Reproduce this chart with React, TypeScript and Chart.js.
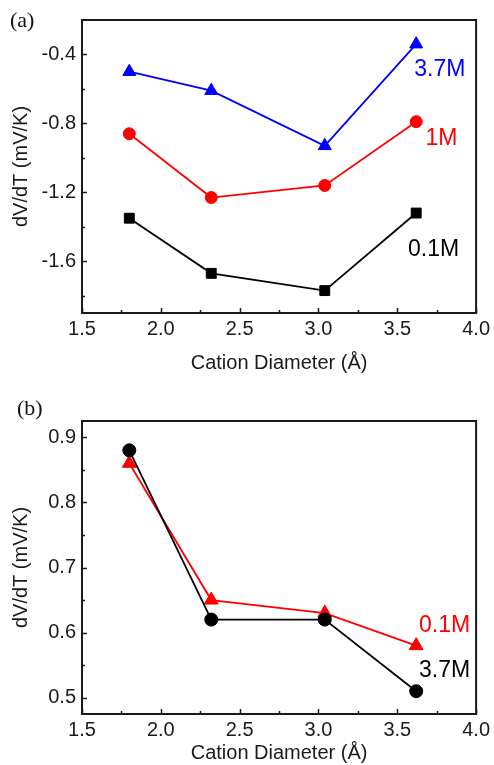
import React, { useEffect, useRef } from 'react';
import { Chart, registerables } from 'chart.js';

Chart.register(...registerables);

// ---- data ----
const cationDiameters = [1.8, 2.32, 3.04, 3.62];

const aSeries37M = [-0.5, -0.61, -0.93, -0.34];
const aSeries1M = [-0.86, -1.23, -1.16, -0.79];
const aSeries01M = [-1.35, -1.67, -1.77, -1.32];

const bSeries37M = [0.88, 0.62, 0.62, 0.51];
const bSeries01M = [0.86, 0.65, 0.63, 0.58];

const xTicks = [1.5, 2.0, 2.5, 3.0, 3.5, 4.0];
const xMinorTicks = [1.75, 2.25, 2.75, 3.25, 3.75];
const aYTicks = [-1.6, -1.2, -0.8, -0.4];
const aYMinorTicks = [-1.8, -1.4, -1.0, -0.6];
const bYTicks = [0.5, 0.6, 0.7, 0.8, 0.9];
const bYMinorTicks = [0.55, 0.65, 0.75, 0.85];

const xTitle = 'Cation Diameter (Å)';
const yTitle = 'dV/dT (mV/K)';

const FONT = '"Liberation Sans", Arial, Helvetica, sans-serif';
const INK = '#1a1a1a';

const framePlugin = {
  id: 'frameTicks',
  beforeDatasetsDraw(chart: any, _args: any, opts: any) {
    const { ctx, chartArea } = chart;
    const { left, right, top, bottom } = chartArea;
    const xs = chart.scales.x;
    const ys = chart.scales.y;
    ctx.save();
    ctx.strokeStyle = INK;
    ctx.lineWidth = 1.5;
    ctx.beginPath();
    const major = 5;
    const minor = 3;
    (opts.xMajor || []).forEach((v: number) => {
      const p = Math.round(xs.getPixelForValue(v)) + 0.5;
      ctx.moveTo(p, bottom);
      ctx.lineTo(p, bottom - major);
    });
    (opts.xMinor || []).forEach((v: number) => {
      const p = Math.round(xs.getPixelForValue(v)) + 0.5;
      ctx.moveTo(p, bottom);
      ctx.lineTo(p, bottom - minor);
    });
    (opts.yMajor || []).forEach((v: number) => {
      const p = Math.round(ys.getPixelForValue(v)) + 0.5;
      ctx.moveTo(left, p);
      ctx.lineTo(left + major, p);
    });
    (opts.yMinor || []).forEach((v: number) => {
      const p = Math.round(ys.getPixelForValue(v)) + 0.5;
      ctx.moveTo(left, p);
      ctx.lineTo(left + minor, p);
    });
    ctx.stroke();
    ctx.lineWidth = 2;
    ctx.strokeRect(left, top, right - left, bottom - top);
    ctx.restore();
  },
};

const labelPlugin = {
  id: 'seriesLabels',
  afterDatasetsDraw(chart: any, _args: any, opts: any) {
    const { ctx } = chart;
    const xs = chart.scales.x;
    const ys = chart.scales.y;
    ctx.save();
    ctx.font = `23px ${FONT}`;
    ctx.textAlign = 'center';
    ctx.textBaseline = 'middle';
    (opts.items || []).forEach((it: any) => {
      ctx.fillStyle = it.color;
      ctx.fillText(it.text, xs.getPixelForValue(it.x), ys.getPixelForValue(it.y));
    });
    ctx.restore();
  },
};

function makeDataset(label: string, values: number[], color: string, style: string, radius: number) {
  return {
    label,
    data: cationDiameters.map((x, i) => ({ x, y: values[i] })),
    borderColor: color,
    backgroundColor: color,
    borderWidth: 1.8,
    pointStyle: style,
    pointRadius: radius,
    pointBackgroundColor: color,
    pointBorderColor: color,
    pointBorderWidth: 1,
    showLine: true,
    tension: 0,
  };
}

function makeOptions(p: any) {
  const tickFont = { family: FONT, size: 20 };
  return {
    responsive: false,
    animation: false,
    layout: { padding: { left: 0, right: 15, top: p.padTop, bottom: 0 } },
    plugins: {
      legend: { display: false },
      tooltip: { enabled: false },
      frameTicks: { xMajor: xTicks, xMinor: xMinorTicks, yMajor: p.yTicks, yMinor: p.yMinor },
      seriesLabels: { items: p.labels },
    },
    scales: {
      x: {
        type: 'linear',
        min: 1.5,
        max: 4.0,
        afterBuildTicks: (s: any) => {
          s.ticks = xTicks.map((v) => ({ value: v }));
        },
        afterFit: (s: any) => {
          s.height = p.xAxisHeight;
        },
        grid: { display: false, drawTicks: false },
        border: { display: false },
        ticks: {
          padding: 4,
          color: INK,
          font: tickFont,
          maxRotation: 0,
          autoSkip: false,
          callback: (v: any) => Number(v).toFixed(1),
        },
        title: {
          display: true,
          text: xTitle,
          color: INK,
          font: { family: FONT, size: 20 },
          padding: { top: 0, bottom: p.xTitlePad },
        },
      },
      y: {
        type: 'linear',
        min: p.yMin,
        max: p.yMax,
        afterBuildTicks: (s: any) => {
          s.ticks = p.yTicks.map((v: number) => ({ value: v }));
        },
        afterFit: (s: any) => {
          s.width = 82;
        },
        grid: { display: false, drawTicks: false },
        border: { display: false },
        ticks: {
          padding: 6,
          color: INK,
          font: tickFont,
          autoSkip: false,
          callback: (v: any) => Number(v).toFixed(1),
        },
        title: {
          display: true,
          text: yTitle,
          color: INK,
          font: { family: FONT, size: 20 },
          padding: { top: 9, bottom: 0 },
        },
      },
    },
  };
}

function Panel(props: { height: number; datasets: any[]; options: any }) {
  const ref = useRef<HTMLCanvasElement | null>(null);
  useEffect(() => {
    if (!ref.current) return;
    const chart = new Chart(ref.current, {
      type: 'scatter',
      data: { datasets: props.datasets },
      options: props.options,
      plugins: [framePlugin, labelPlugin],
    } as any);
    return () => chart.destroy();
  }, []);
  return <canvas ref={ref} width={494} height={props.height} style={{ display: 'block', width: 494, height: props.height }} />;
}

export default function App() {
  const aDatasets = [
    makeDataset('3.7M', aSeries37M, '#0000ff', 'triangle', 7.5),
    makeDataset('1M', aSeries1M, '#ff0000', 'circle', 6),
    makeDataset('0.1M', aSeries01M, '#000000', 'rect', 7),
  ];
  const aOptions = makeOptions({
    padTop: 20,
    xAxisHeight: 67,
    xTitlePad: 5,
    yMin: -1.9,
    yMax: -0.2,
    yTicks: aYTicks,
    yMinor: aYMinorTicks,
    labels: [
      { text: '3.7M', x: 3.77, y: -0.49, color: '#0000ff' },
      { text: '1M', x: 3.78, y: -0.89, color: '#ff0000' },
      { text: '0.1M', x: 3.73, y: -1.535, color: '#000000' },
    ],
  });

  const bDatasets = [
    makeDataset('3.7M', bSeries37M, '#000000', 'circle', 6.5),
    makeDataset('0.1M', bSeries01M, '#ff0000', 'triangle', 8),
  ];
  const bOptions = makeOptions({
    padTop: 41,
    xAxisHeight: 51,
    xTitlePad: 0,
    yMin: 0.475,
    yMax: 0.925,
    yTicks: bYTicks,
    yMinor: bYMinorTicks,
    labels: [
      { text: '0.1M', x: 3.8, y: 0.611, color: '#ff0000' },
      { text: '3.7M', x: 3.8, y: 0.541, color: '#000000' },
    ],
  });

  const tagStyle: React.CSSProperties = {
    position: 'absolute',
    fontFamily: '"Liberation Serif", "Times New Roman", serif',
    fontSize: 22,
    lineHeight: '22px',
    color: '#111',
  };

  return (
    <div style={{ position: 'absolute', left: 0, top: 0, width: 494, height: 765, background: '#fff', overflow: 'hidden' }}>
      <div style={{ position: 'absolute', left: 0, top: 0 }}>
        <Panel height={380} datasets={aDatasets} options={aOptions} />
      </div>
      <div style={{ position: 'absolute', left: 0, top: 380 }}>
        <Panel height={385} datasets={bDatasets} options={bOptions} />
      </div>
      <div style={{ ...tagStyle, left: 10, top: 9 }}>(a)</div>
      <div style={{ ...tagStyle, left: 17, top: 397 }}>(b)</div>
    </div>
  );
}
